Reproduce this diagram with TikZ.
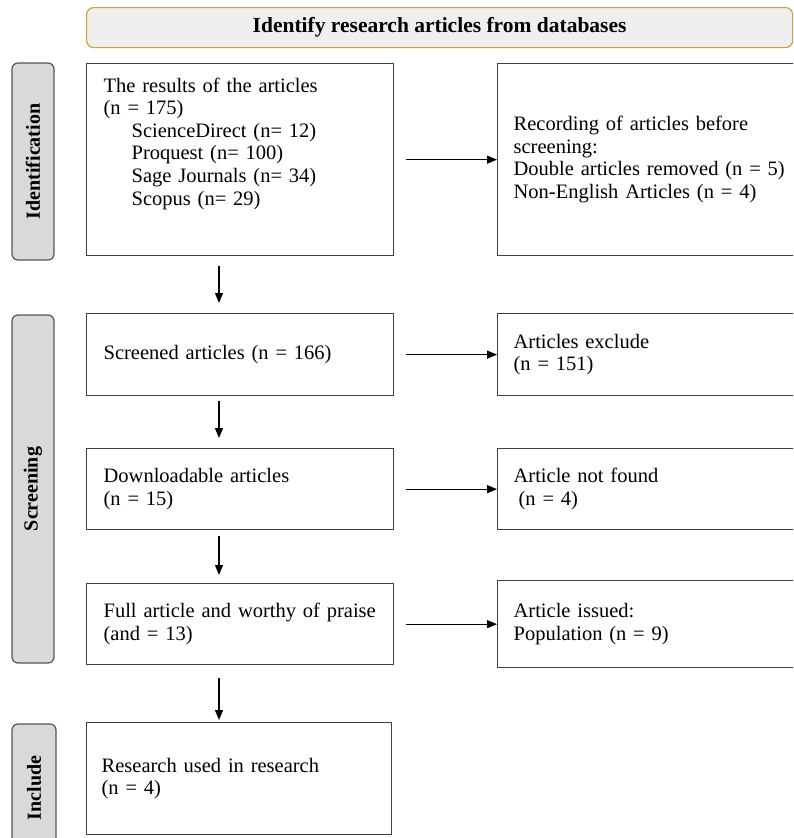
\documentclass[tikz,border=0pt]{standalone}
\usepackage{fontspec}
\setmainfont{Liberation Serif}
\usetikzlibrary{arrows.meta}
\definecolor{hdrfill}{HTML}{EFEFEF}
\definecolor{hdrdraw}{HTML}{C9A33E}
\definecolor{sidefill}{HTML}{D9D9D9}
\definecolor{sidedraw}{HTML}{555555}
\definecolor{boxdraw}{HTML}{404040}
\begin{document}
\begin{tikzpicture}[x=1pt,y=-1pt,
  txt/.style={font=\fontsize{20.5}{22.6}\selectfont},
  box/.style={txt,draw=boxdraw,line width=1.3pt,anchor=north west,align=left,inner xsep=17pt,inner ysep=0pt},
  sidebox/.style={draw=sidedraw,fill=sidefill,line width=1.2pt,rounded corners=6pt,rotate=90,
     font=\fontsize{20}{22}\selectfont\bfseries,inner sep=0pt,minimum height=42pt},
  hdr/.style={draw=hdrdraw,fill=hdrfill,line width=1.2pt,rounded corners=7pt,anchor=north west,
     font=\fontsize{21.5}{22}\selectfont\bfseries,minimum width=706pt,minimum height=40pt,inner sep=0pt},
  arr/.style={-{Triangle[length=10pt,width=8pt]},line width=1.2pt,black}
]
\useasboundingbox (0,0) rectangle (793,838);
\clip (0,0) rectangle (793,838);

% header
\node[hdr] (hd) at (86,7) {Identify research articles from databases};

% side labels
\node[sidebox,minimum width=197pt] (sid) at (33,161.5) {Identification};
\node[sidebox,minimum width=348pt] (sscr) at (33,489) {Screening};
\node[sidebox,minimum width=128pt,minimum height=44pt] (sinc) at (34,788) {Include};

% left boxes
\node[box,text width=273pt,minimum height=192pt] (b1) at (86,63)
  {The results of the articles\\(n = 175)\\
   \hspace*{28pt}ScienceDirect (n= 12)\\
   \hspace*{28pt}Proquest (n= 100)\\
   \hspace*{28pt}Sage Journals (n= 34)\\
   \hspace*{28pt}Scopus (n= 29)\\[14pt]\mbox{}};
\node[box,text width=273pt,minimum height=82pt] (b2) at (86,313)
  {Screened articles (n = 166)};
\node[box,text width=273pt,minimum height=81pt] (b3) at (86,448)
  {Downloadable articles\\(n = 15)};
\node[box,text width=273pt,minimum height=81pt] (b4) at (86,583)
  {Full article and worthy of praise\\(and = 13)};
\node[box,text width=275pt,minimum height=112pt,inner xsep=15pt] (b5) at (86,722)
  {Research used in research\\(n = 4)};

% right boxes (run past the right edge of the picture)
\node[box,text width=360pt,minimum height=192pt,inner xsep=16pt] (r1) at (497,63)
  {Recording of articles before\\screening:\\Double articles removed (n = 5)\\Non-English Articles (n = 4)};
\node[box,text width=360pt,minimum height=82pt,inner xsep=16pt] (r2) at (497,313)
  {Articles exclude\\(n = 151)};
\node[box,text width=360pt,minimum height=81pt,inner xsep=16pt] (r3) at (497,448)
  {Article not found\\\hspace*{5pt}(n = 4)};
\node[box,text width=360pt,minimum height=87pt,inner xsep=16pt] (r4) at (497,580)
  {Article issued:\\Population (n = 9)};

% connectors
\coordinate (vx) at (219,0);
\draw[arr,shorten <=10pt,shorten >=10pt] (b1.south -| vx) -- (b2.north -| vx);
\draw[arr,shorten <=5pt,shorten >=10pt] (b2.south -| vx) -- (b3.north -| vx);
\draw[arr,shorten <=6pt,shorten >=8pt] (b3.south -| vx) -- (b4.north -| vx);
\draw[arr,shorten <=13pt,shorten >=2pt] (b4.south -| vx) -- (b5.north -| vx);

\draw[arr,shorten <=12pt] (b1.east) -- (r1.west);
\draw[arr,shorten <=12pt] (b2.east) -- (r2.west);
\draw[arr,shorten <=12pt] (b3.east) -- (r3.west |- b3.east);
\draw[arr,shorten <=12pt] (b4.east) -- (r4.west |- b4.east);
\end{tikzpicture}
\end{document}
